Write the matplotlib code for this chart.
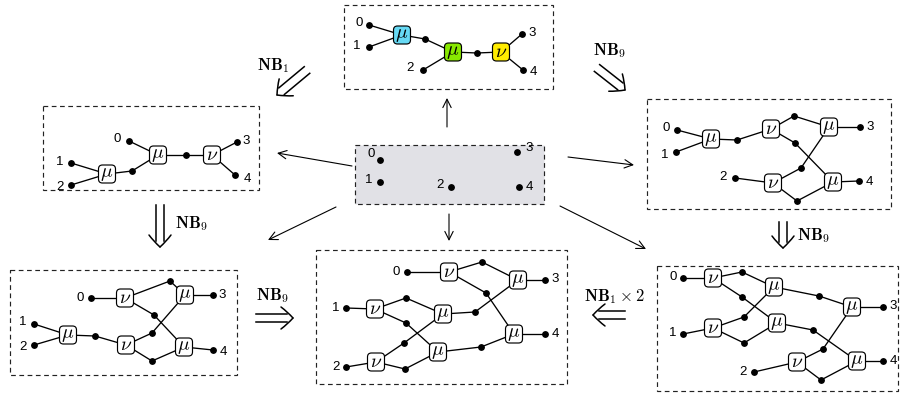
import matplotlib
matplotlib.use("Agg")
import matplotlib.pyplot as plt
import numpy as np
from matplotlib.patches import FancyBboxPatch, Rectangle, FancyArrowPatch, PathPatch
from matplotlib.path import Path

plt.rcParams['mathtext.fontset'] = 'cm'

W, H = 904, 393

# each panel: frame (x0, y0, x1, y1), nodes, edges
# node: (name, kind, x, y[, label dx, label dy])
TOP_FRAME = (344, 5, 553, 89)
TOP_NODES = [
    ('0', 'leaf', 369, 25, -10, -2), ('1', 'leaf', 369, 47, -12, -1),
    ('a', 'mu', 402, 35), ('p', 'dot', 425, 39), ('b', 'mu', 453, 52),
    ('2', 'leaf', 423, 70, -13, -2), ('q', 'dot', 477, 53), ('c', 'nu', 501, 52),
    ('3', 'leaf', 522, 34, 10, -1), ('4', 'leaf', 523, 70, 10, 2),
]
TOP_EDGES = "0-a 1-a a-p p-b 2-b b-q q-c c-3 c-4"
TOP_COLORS = {'a': '#66d9f4', 'b': '#88e800', 'c': '#ffec00'}

CENTER_FRAME = (355, 145, 544, 204)
CENTER_NODES = [
    ('0', 'leaf', 380, 160, -9, -6), ('1', 'leaf', 380, 182, -11, -2),
    ('2', 'leaf', 451, 187, -11, -2), ('3', 'leaf', 517, 152, 12, -4),
    ('4', 'leaf', 519, 187, 10, 0),
]
CENTER_EDGES = ""

LEFT_FRAME = (43, 106, 259, 190)
LEFT_NODES = [
    ('0', 'leaf', 129, 141, -12, -2), ('1', 'leaf', 71, 163, -11, -1),
    ('2', 'leaf', 71, 185, -11, 2), ('a', 'mu', 107, 174), ('p', 'dot', 132, 171),
    ('b', 'mu', 158, 155), ('q', 'dot', 186, 155), ('c', 'nu', 212, 155),
    ('3', 'leaf', 237, 142, 9, -1), ('4', 'leaf', 235, 175, 12, 4),
]
LEFT_EDGES = "1-a 2-a a-p p-b 0-b b-q q-c c-3 c-4"

RTOP_FRAME = (647, 99, 891, 209)
RTOP_NODES = [
    ('0', 'leaf', 677, 130, -11, -2), ('1', 'leaf', 676, 152, -11, 3),
    ('a', 'mu', 711, 139), ('p', 'dot', 737, 140), ('b', 'nu', 771, 129),
    ('q', 'dot', 794, 116), ('r', 'dot', 795, 143), ('c', 'mu', 829, 127),
    ('3', 'leaf', 860, 127, 10, 0), ('2', 'leaf', 735, 178, -12, -1),
    ('d', 'nu', 773, 183), ('s', 'dot', 801, 168), ('t', 'dot', 797, 201),
    ('e', 'mu', 833, 182), ('4', 'leaf', 859, 181, 10, 1),
]
RTOP_EDGES = "0-a 1-a a-p p-b b-q q-c b-r r-e 2-d d-s s-c d-t t-e c-3 e-4"

BLEFT_FRAME = (10, 270, 237, 375)
BLEFT_NODES = [
    ('0', 'leaf', 91, 298, -11, 0), ('a', 'nu', 125, 298), ('p', 'dot', 170, 281),
    ('q', 'dot', 154, 315), ('b', 'mu', 185, 295), ('3', 'leaf', 213, 295, 9, 0),
    ('1', 'leaf', 34, 324, -11, -2), ('2', 'leaf', 34, 345, -11, 2),
    ('c', 'mu', 68, 335), ('r', 'dot', 95, 336), ('d', 'nu', 126, 345),
    ('s', 'dot', 152, 333), ('t', 'dot', 152, 361), ('e', 'mu', 184, 347),
    ('4', 'leaf', 213, 350, 10, 2),
]
BLEFT_EDGES = "0-a a-p p-b a-q q-e 1-c 2-c c-r r-d d-s s-b d-t t-e b-3 e-4"

BCENTER_FRAME = (316, 250, 567, 384)
BCENTER_NODES = [
    ('0', 'leaf', 407, 272, -11, 0), ('a', 'nu', 449, 272), ('p', 'dot', 482, 262),
    ('q', 'dot', 486, 293), ('b', 'mu', 518, 280), ('3', 'leaf', 545, 280, 10, -1),
    ('1', 'leaf', 346, 308, -10, 0), ('c', 'nu', 375, 309), ('r', 'dot', 406, 298),
    ('s', 'dot', 406, 323), ('d', 'mu', 443, 314), ('u', 'dot', 475, 312),
    ('2', 'leaf', 346, 367, -10, 0), ('e', 'nu', 376, 362), ('v', 'dot', 404, 343),
    ('w', 'dot', 405, 369), ('f', 'mu', 438, 352), ('x', 'dot', 481, 347),
    ('g', 'mu', 514, 334), ('4', 'leaf', 545, 334, 10, 0),
]
BCENTER_EDGES = "0-a a-p p-b a-q q-g 1-c c-r r-d c-s s-f 2-e e-v v-d e-w w-f d-u u-b f-x x-g b-3 g-4"

BRIGHT_FRAME = (657, 266, 898, 391)
BRIGHT_NODES = [
    ('0', 'leaf', 683, 278, -10, -1), ('a', 'nu', 713, 278), ('p', 'dot', 742, 272),
    ('q', 'dot', 742, 297), ('b', 'mu', 774, 287), ('1', 'leaf', 683, 334, -10, -1),
    ('c', 'nu', 713, 328), ('r', 'dot', 744, 317), ('s', 'dot', 744, 343),
    ('d', 'mu', 777, 323), ('u', 'dot', 819, 296), ('e', 'mu', 852, 307),
    ('3', 'leaf', 883, 307, 10, -1), ('v', 'dot', 813, 330),
    ('2', 'leaf', 754, 372, -11, 0), ('f', 'nu', 797, 362), ('w', 'dot', 823, 349),
    ('x', 'dot', 821, 380), ('g', 'mu', 857, 361), ('4', 'leaf', 883, 361, 10, 0),
]
BRIGHT_EDGES = "0-a a-p p-b a-q q-d 1-c c-r r-b c-s s-d b-u u-e d-v v-g 2-f f-w w-e f-x x-g e-3 g-4"

# thin arrows from the centre panel: (x0, y0, x1, y1)
THIN_ARROWS = [(447, 127, 447, 98), (352, 166, 277, 153), (568, 157, 634, 165),
               (336, 207, 268, 240), (449, 214, 449, 241), (560, 206, 646, 249)]

# rewrite arrows: (x0, y0, x1, y1, label, label x, label y, ha)
RULE_ARROWS = [
    (307, 70, 277, 95, r'$\mathbf{NB}_1$', 273, 66, 'center'),
    (597, 68, 625, 90, r'$\mathbf{NB}_9$', 610, 51, 'center'),
    (160, 205, 160, 247, r'$\mathbf{NB}_9$', 175, 224, 'left'),
    (256, 318, 293, 318, r'$\mathbf{NB}_9$', 273, 296, 'center'),
    (783, 222, 783, 248, r'$\mathbf{NB}_9$', 797, 236, 'left'),
    (625, 315, 593, 315, r'$\mathbf{NB}_1\times 2$', 614, 297, 'center'),
]

PANELS = [
    (TOP_FRAME, TOP_NODES, TOP_EDGES, None),
    (CENTER_FRAME, CENTER_NODES, CENTER_EDGES, '#e1e1e6'),
    (LEFT_FRAME, LEFT_NODES, LEFT_EDGES, None),
    (RTOP_FRAME, RTOP_NODES, RTOP_EDGES, None),
    (BLEFT_FRAME, BLEFT_NODES, BLEFT_EDGES, None),
    (BCENTER_FRAME, BCENTER_NODES, BCENTER_EDGES, None),
    (BRIGHT_FRAME, BRIGHT_NODES, BRIGHT_EDGES, None),
]


def draw_panel(ax, frame, nodes, edges, fill, colors):
    x0, y0, x1, y1 = frame
    ax.add_patch(Rectangle((x0, y0), x1 - x0, y1 - y0, fill=fill is not None,
                           facecolor=fill or 'none', edgecolor='#222222', lw=0.85,
                           linestyle=(0, (4, 3)), zorder=1))
    pos = {n[0]: (n[2], n[3]) for n in nodes}
    for e in edges.split():
        a, b = e.split('-')
        ax.plot([pos[a][0], pos[b][0]], [pos[a][1], pos[b][1]], color='black',
                lw=0.95, zorder=2, solid_capstyle='round')
    for n in nodes:
        name, kind, x, y = n[:4]
        if kind in ('leaf', 'dot'):
            ax.plot(x, y, 'o', color='black', ms=3.9, zorder=4)
        if kind == 'leaf':
            ax.text(x + n[4], y + n[5], name, ha='center', va='center',
                    fontsize=9.5, family='Liberation Sans', zorder=5)
        if kind in ('mu', 'nu'):
            w, h = 17, 18
            ax.add_patch(FancyBboxPatch((x - w / 2, y - h / 2), w, h,
                                        boxstyle='round,pad=0,rounding_size=4',
                                        facecolor=colors.get(name, 'white'),
                                        edgecolor='black', lw=0.85, zorder=3))
            sym = r'$\mu$' if kind == 'mu' else r'$\nu$'
            ax.text(x, y - 0.5, sym, ha='center', va='center', fontsize=14, zorder=5)


def double_arrow(ax, x0, y0, x1, y1, gap=4.3, hw=11, hl=12):
    d = np.array([x1 - x0, y1 - y0], float)
    d /= np.hypot(*d)
    n = np.array([-d[1], d[0]])
    start, tip = np.array([x0, y0], float), np.array([x1, y1], float)
    for s in (-1, 1):
        a = start + s * gap * n
        b = tip - 0.5 * hl * d + s * gap * n
        ax.plot([a[0], b[0]], [a[1], b[1]], color='black', lw=1.1, zorder=2)
        ctrl = tip - 0.45 * hl * d + s * 0.55 * hw * n
        end = tip - hl * d + s * hw * n
        p = Path([tip, ctrl, end], [Path.MOVETO, Path.CURVE3, Path.CURVE3])
        ax.add_patch(PathPatch(p, facecolor='none', edgecolor='black', lw=1.1,
                               capstyle='round', zorder=2))


fig = plt.figure(figsize=(W / 100, H / 100), dpi=100)
ax = fig.add_axes([0, 0, 1, 1])
ax.set_xlim(0, W)
ax.set_ylim(H, 0)
ax.axis('off')

for frame, nodes, edges, fill in PANELS:
    draw_panel(ax, frame, nodes, edges, fill, TOP_COLORS if nodes is TOP_NODES else {})

for x0, y0, x1, y1 in THIN_ARROWS:
    ax.add_patch(FancyArrowPatch((x0, y0), (x1, y1), arrowstyle='->,head_length=0.5,head_width=0.25',
                                 mutation_scale=12, lw=0.8, color='black',
                                 shrinkA=0, shrinkB=0, zorder=2))

for x0, y0, x1, y1, lab, lx, ly, ha in RULE_ARROWS:
    double_arrow(ax, x0, y0, x1, y1)
    ax.text(lx, ly, lab, ha=ha, va='center', fontsize=12)

fig.savefig('out.png', dpi=100)
